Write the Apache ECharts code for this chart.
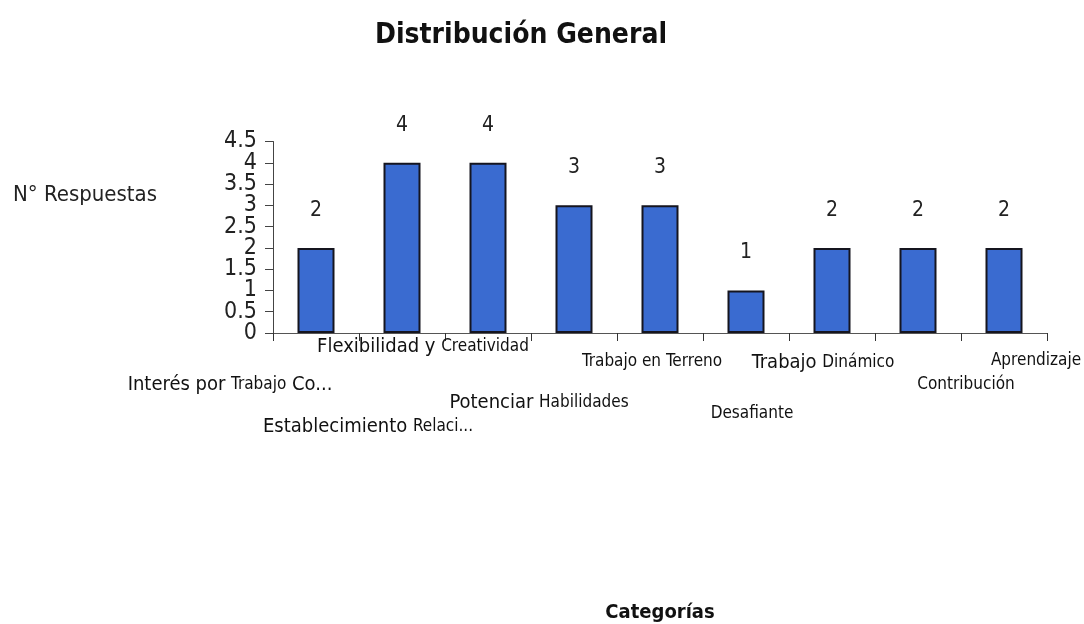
<!DOCTYPE html>
<html>
<head>
<meta charset="utf-8">
<script src="https://cdn.jsdelivr.net/npm/echarts@6/dist/echarts.min.js"></script>
<style>
html,body{margin:0;padding:0;background:#fff;}
#chart{width:1084px;height:624px;}
</style>
</head>
<body>
<div id="chart"></div>
<script>
// ---- data ----
const titleText = 'Distribución General';
const yAxisName = 'N° Respuestas';
const xAxisName = 'Categorías';
// category names split as [large part, small part, large tail]
const catBig   = ['Interés por', 'Establecimiento', 'Flexibilidad y', 'Potenciar', '', '', 'Trabajo', '', ''];
const catSmall = ['Trabajo', 'Relaci...', 'Creatividad', 'Habilidades', 'Trabajo en Terreno', 'Desafiante', 'Dinámico', 'Contribución', 'Aprendizaje'];
const catTail  = ['Co...', '', '', '', '', '', '', '', ''];
const values   = [2, 4, 4, 3, 3, 1, 2, 2, 2];
const yTicks   = [0, 0.5, 1, 1.5, 2, 2.5, 3, 3.5, 4, 4.5];

// label placement offsets (px): horizontal shift and vertical drop
const labelDx = [-86, -34, -65, -35, -8, 6, -9, 48, 32];
const labelDy = [38, 80, 0, 56, 16, 68, 16, 39, 15];

const FONT = "'Liberation Sans Narrow','Arial Narrow','DejaVu Sans Condensed','Liberation Sans',sans-serif";

const categories = catSmall.map((s, i) => [catBig[i], s, catTail[i]].filter(x => x).join(' '));

const xData = categories.map((name, i) => {
  const dx = labelDx[i];
  return {
    value: name,
    textStyle: {
      padding: [labelDy[i], dx < 0 ? -2 * dx : 0, 0, dx > 0 ? 2 * dx : 0]
    }
  };
});

// tick labels split over two overlaid axes so that ECharts does not drop
// the neighbours of the min / max labels (they overlap in the original)
const yTicksInner = yTicks.filter((v, i) => i === 1 || i === yTicks.length - 2);
const yTicksOuter = yTicks.filter(v => yTicksInner.indexOf(v) < 0);

function yAxisBase(vals, showLine) {
  return {
    type: 'value',
    position: 'left',
    min: yTicks[0], max: yTicks[yTicks.length - 1], interval: 0.5,
    axisLine: { show: showLine, lineStyle: { color: '#444', width: 1 } },
    axisTick: { show: showLine, length: 8, lineStyle: { color: '#444' } },
    axisLabel: {
      margin: 16, color: '#222',
      customValues: vals,
      showMinLabel: true, showMaxLabel: true, hideOverlap: false,
      fontFamily: FONT, fontSize: 23,
      formatter: v => String(v)
    },
    splitLine: { show: false }
  };
}

const chart = echarts.init(document.getElementById('chart'));
chart.setOption({
  backgroundColor: '#ffffff',
  animation: false,
  title: [{
    text: titleText,
    left: 516, top: 17, textAlign: 'center',
    textStyle: { fontFamily: FONT, fontWeight: 'bold', fontSize: 28, color: '#111' }
  }, {
    text: yAxisName,
    left: 8, top: 179,
    textStyle: { fontFamily: FONT, fontWeight: 'normal', fontSize: 22, color: '#222' }
  }],
  grid: { left: 273, right: 37, top: 141.5, bottom: 291, containLabel: false, outerBoundsMode: 'none' },
  xAxis: {
    type: 'category',
    data: xData,
    axisLine: { show: true, lineStyle: { color: '#555', width: 1 } },
    axisTick: { show: true, alignWithLabel: false, length: 8, inside: false, lineStyle: { color: '#333' } },
    axisLabel: {
      interval: 0, margin: 4, hideOverlap: false,
      fontFamily: FONT, color: '#111', verticalAlign: 'top',
      formatter: function (v, i) {
        const parts = [];
        if (catBig[i]) parts.push('{b|' + catBig[i] + ' }');
        if (catSmall[i]) parts.push('{s|' + catSmall[i] + '}');
        if (catTail[i]) parts.push('{b| ' + catTail[i] + '}');
        return parts.join('');
      },
      rich: {
        b: { fontFamily: FONT, fontSize: 20, color: '#111' },
        s: { fontFamily: FONT, fontSize: 17, color: '#111' }
      }
    },
    name: xAxisName,
    nameLocation: 'middle',
    nameGap: 270,
    nameTextStyle: { fontFamily: FONT, fontWeight: 'bold', fontSize: 20, color: '#111' },
    splitLine: { show: false }
  },
  yAxis: [yAxisBase(yTicksOuter, true), yAxisBase(yTicksInner, false)],
  series: [{
    type: 'bar',
    yAxisIndex: 0,
    data: values,
    barWidth: 37,
    itemStyle: { color: '#3a6bd0', borderColor: '#15151f', borderWidth: 2 },
    label: {
      show: true, position: 'top', distance: 27,
      fontFamily: FONT, fontSize: 21, color: '#222'
    }
  }]
});
</script>
</body>
</html>
